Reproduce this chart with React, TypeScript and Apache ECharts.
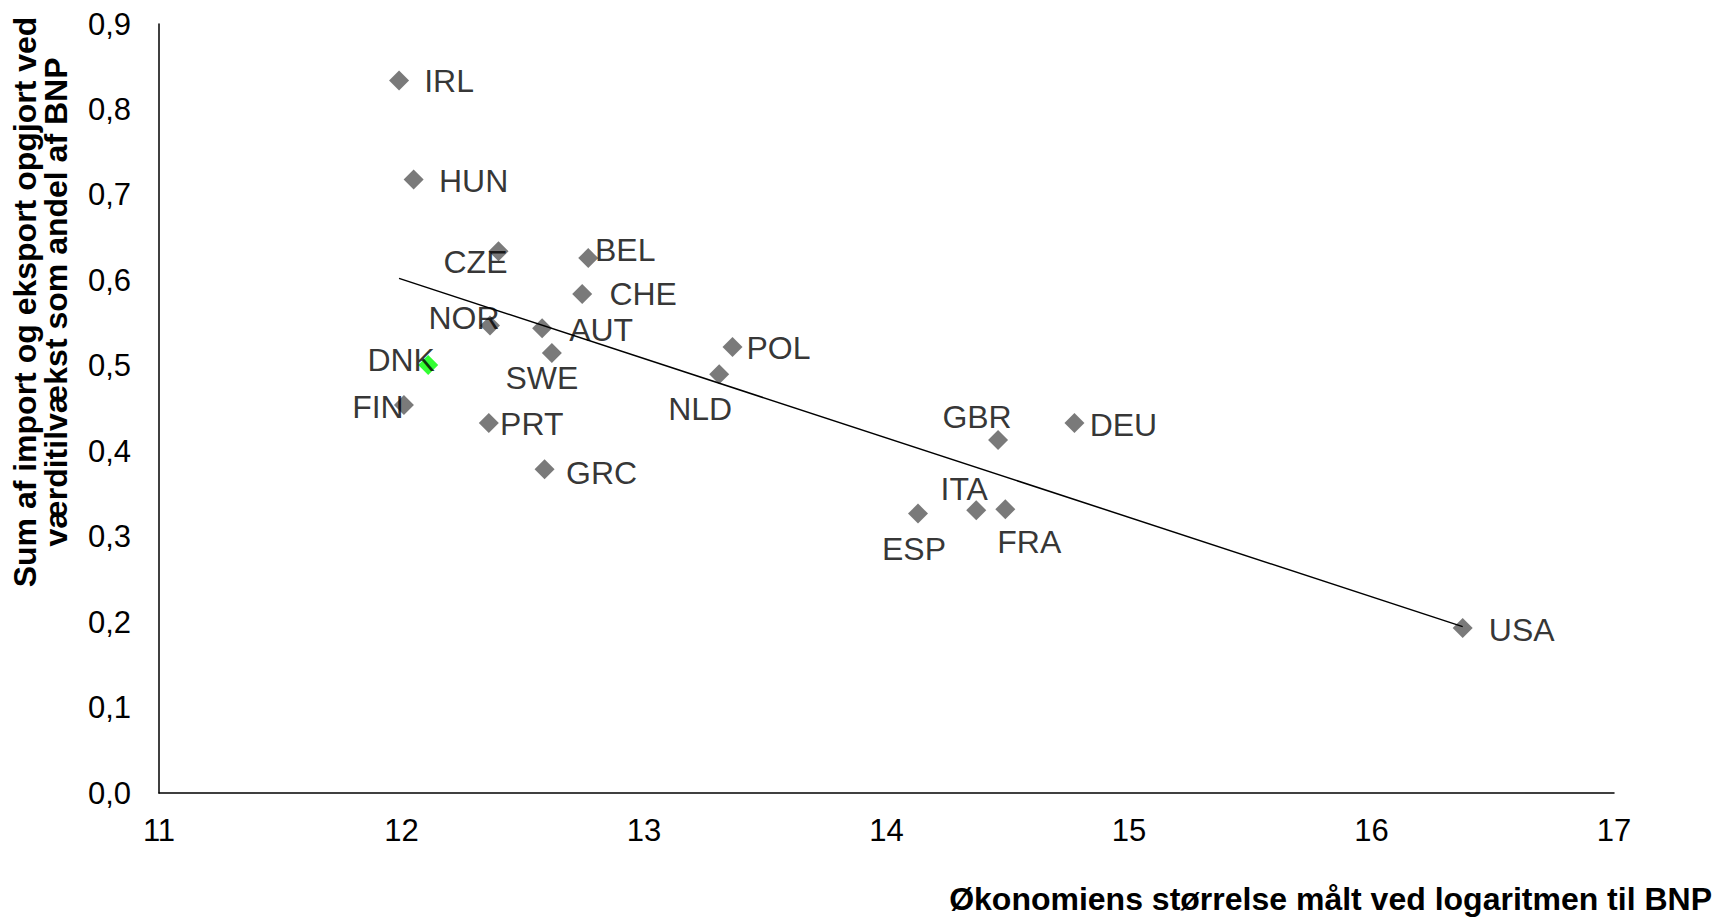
import React, { useEffect, useRef } from "react";
import * as echarts from "echarts";

const countries = ["IRL", "HUN", "CZE", "BEL", "CHE", "NOR", "AUT", "SWE", "DNK", "FIN", "PRT", "GRC", "POL", "NLD", "GBR", "DEU", "ITA", "FRA", "ESP", "USA"];
const logGdp = [11.99, 12.05, 12.4, 12.77, 12.745, 12.365, 12.58, 12.62, 12.11, 12.01, 12.36, 12.59, 13.365, 13.31, 14.46, 14.775, 14.37, 14.49, 14.13, 16.376];
const tradeShare = [0.834, 0.718, 0.634, 0.626, 0.584, 0.547, 0.544, 0.515, 0.501, 0.454, 0.433, 0.379, 0.522, 0.49, 0.413, 0.433, 0.331, 0.332, 0.327, 0.193];
const highlighted = "DNK";

const xTicks = { min: 11, max: 17, interval: 1 };
const yTicks = { min: 0, max: 0.9, interval: 0.1 };

const yTitle = "Sum af import og eksport opgjort ved\nværditilvækst som andel af BNP";
const xTitle = "Økonomiens størrelse målt ved logaritmen til BNP";

// label placement (px offsets from marker centre)
const labelOffsets: Record<string, [number, number]> = {
  IRL: [50, 1], HUN: [60, 1], CZE: [-23, 11], BEL: [37, -8], CHE: [61, 0],
  NOR: [-26, -8], AUT: [59, 2], SWE: [-10, 25], DNK: [-27, -5], FIN: [-26, 2],
  PRT: [43, 1], GRC: [57, 4], POL: [46, 1], NLD: [-19, 35], GBR: [-21, -23],
  DEU: [49, 2], ITA: [-12, -21], FRA: [24, 33], ESP: [-4, 35], USA: [59, 2],
};

const FONT = '"Liberation Sans", Arial, sans-serif';

function regression(xs: number[], ys: number[]) {
  const n = xs.length;
  const mx = xs.reduce((a, b) => a + b, 0) / n;
  const my = ys.reduce((a, b) => a + b, 0) / n;
  let sxy = 0, sxx = 0;
  for (let i = 0; i < n; i++) {
    sxy += (xs[i] - mx) * (ys[i] - my);
    sxx += (xs[i] - mx) * (xs[i] - mx);
  }
  const b = sxy / sxx;
  return { a: my - b * mx, b };
}

export default function App() {
  const ref = useRef<HTMLDivElement>(null);
  useEffect(() => {
    if (!ref.current) return;
    const chart = echarts.init(ref.current, null, { renderer: "svg" });
    const { a, b } = regression(logGdp, tradeShare);
    const xMin = Math.min(...logGdp);
    const xMax = Math.max(...logGdp);
    const points = countries.map((c, i) => ({
      name: c,
      value: [logGdp[i], tradeShare[i]],
      itemStyle: { color: c === highlighted ? "#00FF00" : "#595959" },
      label: { offset: labelOffsets[c] },
    }));
    chart.setOption({
      animation: false,
      backgroundColor: "#ffffff",
      grid: { left: 159, right: 105, top: 24, bottom: 128, containLabel: false },
      xAxis: {
        type: "value",
        min: xTicks.min,
        max: xTicks.max,
        interval: xTicks.interval,
        axisLine: { show: true, lineStyle: { color: "#000", width: 1.5 } },
        axisTick: { show: false },
        splitLine: { show: false },
        axisLabel: { color: "#000", fontSize: 31, fontFamily: FONT, margin: 22 },
      },
      yAxis: {
        type: "value",
        min: yTicks.min,
        max: yTicks.max,
        interval: yTicks.interval,
        axisLine: { show: true, lineStyle: { color: "#000", width: 1.5 } },
        axisTick: { show: false },
        splitLine: { show: false },
        axisLabel: {
          color: "#000",
          fontSize: 31,
          fontFamily: FONT,
          margin: 28,
          formatter: (v: number) => v.toFixed(1).replace(".", ","),
        },
      },
      series: [
        {
          type: "scatter",
          symbol: "diamond",
          symbolSize: 20,
          data: points,
          label: {
            show: true,
            position: "inside",
            formatter: "{b}",
            color: "#000",
            fontSize: 32,
            fontFamily: FONT,
          },
          z: 3,
        },
        {
          type: "line",
          data: [
            [xMin, a + b * xMin],
            [xMax, a + b * xMax],
          ],
          symbol: "none",
          lineStyle: { color: "#000", width: 1.5 },
          z: 4,
        },
      ],
      graphic: [
        {
          type: "text",
          x: 40,
          y: 302,
          rotation: Math.PI / 2,
          style: {
            text: yTitle,
            fontSize: 32,
            fontWeight: "bold",
            fontFamily: FONT,
            lineHeight: 31,
            align: "center",
            verticalAlign: "middle",
            fill: "#000",
          },
        },
        {
          type: "text",
          x: 1712,
          y: 899,
          style: {
            text: xTitle,
            fontSize: 32,
            fontWeight: "bold",
            fontFamily: FONT,
            align: "right",
            verticalAlign: "middle",
            fill: "#000",
          },
        },
      ],
    });
    return () => chart.dispose();
  }, []);
  return (
    <div
      ref={ref}
      style={{ position: "fixed", left: 0, top: 0, width: 1719, height: 921, background: "#fff" }}
    />
  );
}
